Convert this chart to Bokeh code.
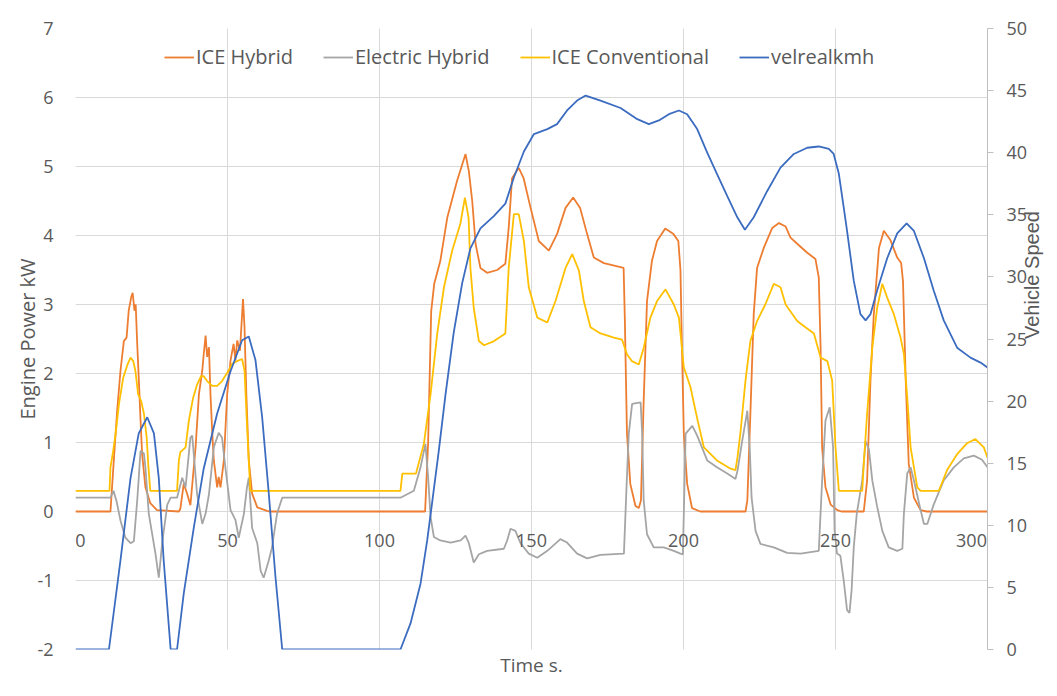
import math
from bokeh.plotting import figure
from bokeh.models import (Range1d, LinearAxis, FixedTicker, Grid, LabelSet, Title,
                          ColumnDataSource)
from bokeh.core.properties import value
from bokeh.embed import file_html
from bokeh.resources import INLINE

# ---- data ----
x_ticks = [0, 50, 100, 150, 200, 250, 300]
power_ticks = [-2, -1, 0, 1, 2, 3, 4, 5, 6, 7]
speed_ticks = [0, 5, 10, 15, 20, 25, 30, 35, 40, 45, 50]

ice_hybrid = [
    (0, 0), (11.5, 0), (12.6, 0.74), (13.7, 1.46), (14.8, 2.04), (15.9, 2.47), (16.8, 2.52), (17.5, 2.91),
    (18.3, 3.10), (18.8, 3.17), (19.4, 2.91), (19.8, 3.0), (20.3, 2.43), (20.8, 1.94), (21.4, 1.32),
    (21.9, 0.84), (23.0, 0.35), (24.6, 0.12), (26.8, 0.02), (34.0, 0.0),
    (34.5, 0.04), (35.6, 0.40), (36.7, 0.26), (37.8, 0.09), (39.5, 0.93), (40.6, 1.70), (41.7, 2.04),
    (42.2, 2.29), (42.8, 2.55), (43.3, 2.24), (43.9, 2.38), (44.4, 1.70), (45.0, 1.13), (45.5, 0.74),
    (46.6, 0.35), (47.1, 0.50), (47.7, 0.35), (48.8, 0.74), (49.9, 1.70), (51.0, 2.19), (52.0, 2.43),
    (52.6, 2.19), (53.2, 2.48), (54.1, 2.33), (55.1, 3.08), (55.6, 2.67), (56.2, 1.70), (57.0, 0.74),
    (58.1, 0.26), (59.8, 0.06), (63.0, 0.01), (64.0, 0.0),
    (115.0, 0.0), (116.0, 1.0), (117.0, 2.9), (118.0, 3.3), (120.0, 3.63), (122.3, 4.26), (125.5, 4.79),
    (128.3, 5.18), (129.4, 4.93), (130.5, 4.5), (131.6, 3.88), (133.2, 3.53), (135.4, 3.46), (138.7, 3.5),
    (141.4, 3.59), (142.5, 4.11), (143.6, 4.83), (145.8, 4.98), (147.4, 4.83), (149.7, 4.4), (152.4, 3.92),
    (155.7, 3.78), (158.4, 4.02), (161.2, 4.4), (163.7, 4.55), (166.0, 4.4), (168.3, 4.02), (170.5, 3.68),
    (173.8, 3.6), (180.3, 3.53), (180.7, 2.8), (181.4, 1.13), (182.5, 0.4), (184.2, 0.08), (185.3, 0.05),
    (186.0, 0.16), (186.9, 1.6), (188.0, 3.05), (189.6, 3.63), (191.3, 3.92), (194.0, 4.1), (196.7, 4.02),
    (198.3, 3.92), (199.0, 3.5), (199.4, 2.58), (200.1, 1.13), (201.2, 0.4), (202.8, 0.05), (205.5, 0.0),
    (220.4, 0.0), (221.0, 0.16), (222.0, 1.42), (223.1, 2.86), (224.2, 3.53), (226.4, 3.82), (229.2, 4.11),
    (231.4, 4.18), (233.6, 4.13), (235.2, 3.97), (237.4, 3.88), (240.7, 3.75), (243.4, 3.66), (244.5, 3.39),
    (245.1, 2.37), (245.6, 0.92), (246.7, 0.35), (248.4, 0.1), (250.6, 0.02), (252.0, 0.0),
    (259.3, 0.0), (260.4, 0.45), (261.5, 1.9), (262.6, 2.86), (264.3, 3.82), (265.9, 4.07), (268.1, 3.93),
    (270.3, 3.68), (271.6, 3.6), (272.2, 3.34), (273.1, 1.9), (274.1, 0.69), (275.8, 0.2), (278.0, 0.02),
    (280.0, 0.0), (300.0, 0.0),
]

electric_hybrid = [
    (0, 0.2), (11.5, 0.2), (12.5, 0.3), (13.5, 0.15), (14.8, -0.13), (16.4, -0.38), (18.1, -0.46),
    (19.2, -0.43), (20.3, 0.16), (21.4, 0.88), (22.5, 0.84), (23.0, 0.64), (24.1, -0.03), (25.2, -0.32),
    (26.3, -0.61), (27.4, -0.96), (28.5, -0.46), (30.2, 0.1), (31.3, 0.2), (33.4, 0.2), (35.1, 0.49),
    (36.2, 0.35), (37.8, 1.07), (38.4, 1.1), (40.0, 0.25), (41.7, -0.18), (42.8, -0.03), (43.9, 0.25),
    (45.5, 0.93), (47.1, 1.14), (48.2, 1.07), (49.3, 0.64), (51.0, 0.02), (52.6, -0.12), (53.7, -0.38),
    (55.4, -0.03), (56.4, 0.35), (57.0, 0.49), (58.1, -0.24), (59.8, -0.46), (60.9, -0.86), (61.9, -0.96),
    (63.5, -0.72), (64.6, -0.53), (66.3, -0.03), (68.0, 0.2), (106.9, 0.2), (111.3, 0.3), (113.5, 0.64),
    (115.1, 0.98), (116.0, 0.5), (116.8, -0.08), (117.9, -0.37), (120.0, -0.42), (123.4, -0.45),
    (126.7, -0.42), (128.3, -0.35), (129.4, -0.46), (131.0, -0.74), (132.7, -0.62), (135.4, -0.57),
    (140.9, -0.54), (142.0, -0.42), (143.1, -0.25), (144.7, -0.28), (146.4, -0.46), (149.1, -0.61),
    (151.9, -0.67), (155.2, -0.57), (159.5, -0.4), (161.7, -0.45), (165.0, -0.61), (168.3, -0.68),
    (172.7, -0.63), (180.4, -0.61), (181.3, 0.4), (182.0, 1.13), (183.1, 1.56), (185.9, 1.58),
    (186.4, 1.13), (186.9, 0.16), (188.0, -0.33), (190.2, -0.52), (193.5, -0.52), (196.8, -0.57),
    (199.0, -0.61), (199.8, -0.62), (200.7, 1.13), (202.9, 1.24), (204.5, 1.1), (207.8, 0.74), (211.0, 0.64),
    (214.4, 0.55), (217.1, 0.47), (217.8, 0.6), (219.3, 1.02), (221.0, 1.46), (221.8, 0.9), (222.4, 0.2),
    (223.7, -0.28), (225.3, -0.47), (229.7, -0.52), (234.1, -0.6), (238.5, -0.61), (244.5, -0.57),
    (245.6, 0.45), (246.7, 1.32), (248.1, 1.51), (249.2, 0.93), (249.7, -0.28), (250.5, -0.61),
    (251.6, -0.64), (252.7, -1.0), (253.8, -1.43), (254.6, -1.47), (255.3, -1.14), (256.0, -0.52),
    (257.0, -0.03), (258.8, 0.45), (259.9, 1.02), (261.0, 0.9), (262.1, 0.45), (263.7, 0.07),
    (265.4, -0.28), (267.5, -0.52), (270.3, -0.57), (272.0, -0.54), (272.5, -0.03), (273.6, 0.55),
    (274.7, 0.64), (275.8, 0.45), (278.0, 0.02), (279.1, -0.18), (280.2, -0.18), (282.3, 0.1),
    (285.6, 0.45), (288.9, 0.64), (292.2, 0.77), (295.5, 0.81), (298.2, 0.75), (300.0, 0.64),
]

ice_conventional = [
    (0, 0.3), (11.2, 0.3), (11.5, 0.64), (12.4, 0.88), (13.2, 1.13), (14.3, 1.56), (15.7, 1.94),
    (17.2, 2.14), (18.1, 2.23), (19.0, 2.18), (19.7, 2.04), (20.6, 1.7), (21.6, 1.6), (22.5, 1.42),
    (23.4, 1.08), (24.0, 0.64), (24.6, 0.3), (33.4, 0.3), (34.0, 0.74), (34.5, 0.86), (36.2, 0.93),
    (37.3, 1.32), (38.7, 1.65), (40.0, 1.84), (41.3, 1.96), (42.2, 1.96), (43.3, 1.89), (45.0, 1.82),
    (46.6, 1.82), (48.2, 1.89), (49.9, 2.01), (51.5, 2.14), (53.2, 2.18), (54.8, 2.21), (55.6, 2.04),
    (56.2, 1.46), (57.0, 0.74), (57.5, 0.3), (106.9, 0.3), (107.5, 0.55), (112.0, 0.55), (114.6, 0.98),
    (116.8, 1.7), (119.0, 2.58), (121.2, 3.25), (123.9, 3.78), (126.6, 4.17), (128.1, 4.55), (129.3, 4.26),
    (129.9, 3.53), (131.0, 2.95), (132.7, 2.47), (134.4, 2.41), (137.7, 2.47), (141.4, 2.58), (142.5, 3.53),
    (144.2, 4.31), (145.8, 4.31), (147.5, 3.92), (149.1, 3.25), (151.9, 2.81), (155.2, 2.74), (157.9, 3.05),
    (161.2, 3.53), (163.4, 3.73), (165.6, 3.49), (167.2, 3.05), (169.4, 2.67), (172.7, 2.58), (177.1, 2.52),
    (179.8, 2.49), (181.4, 2.28), (183.0, 2.18), (185.3, 2.13), (186.9, 2.37), (189.1, 2.81), (191.3, 3.05),
    (194.1, 3.22), (196.8, 3.0), (198.5, 2.81), (200.1, 2.09), (202.3, 1.8), (204.5, 1.35), (206.7, 0.93),
    (211.0, 0.74), (215.5, 0.62), (217.1, 0.6), (217.8, 0.8), (218.8, 1.17), (220.4, 1.9), (222.0, 2.47),
    (224.2, 2.76), (226.9, 3.0), (229.7, 3.3), (231.9, 3.25), (233.6, 3.0), (235.2, 2.9), (237.4, 2.76),
    (240.1, 2.67), (242.9, 2.58), (245.1, 2.23), (247.3, 2.18), (248.9, 1.9), (250.0, 0.93), (251.1, 0.3),
    (258.8, 0.3), (259.3, 0.69), (260.4, 1.42), (262.1, 2.37), (263.7, 2.95), (265.4, 3.3), (267.0, 3.1),
    (269.2, 2.86), (271.4, 2.52), (272.5, 2.28), (273.6, 1.65), (274.7, 0.93), (276.9, 0.35), (278.0, 0.3),
    (284.0, 0.3), (286.7, 0.6), (290.0, 0.83), (293.3, 0.99), (296.0, 1.05), (298.8, 0.93), (300.0, 0.78),
]

velrealkmh = [
    (0, 0), (11.0, 0), (14.8, 7.2), (18.1, 13.8), (20.8, 17.4), (23.6, 18.7), (25.8, 17.4), (27.4, 13.8),
    (29.0, 7.2), (31.3, 0), (33.4, 0), (35.6, 4.5), (38.9, 9.8), (42.2, 14.6), (46.6, 19.0), (51.0, 22.4),
    (54.8, 24.9), (57.0, 25.2), (59.2, 23.3), (61.4, 18.7), (63.6, 12.5), (65.8, 5.8), (68.0, 0),
    (106.9, 0), (110.2, 2.1), (113.5, 5.3), (115.7, 8.8), (117.3, 11.8), (119.5, 16.0), (121.7, 20.5),
    (124.4, 25.5), (127.2, 29.5), (129.9, 32.3), (133.2, 33.9), (137.6, 34.9), (141.4, 35.9), (144.2, 38.0),
    (147.5, 40.1), (150.8, 41.5), (155.2, 41.9), (158.4, 42.3), (161.7, 43.4), (165.0, 44.2), (167.8, 44.6),
    (172.7, 44.2), (179.3, 43.6), (184.8, 42.7), (188.6, 42.3), (191.9, 42.6), (195.2, 43.1), (198.5, 43.4),
    (201.2, 43.1), (204.5, 41.9), (207.8, 40.0), (211.0, 38.3), (214.4, 36.5), (217.7, 34.8), (220.2, 33.8),
    (223.1, 34.8), (227.5, 36.9), (231.9, 38.8), (236.3, 39.9), (240.7, 40.4), (244.5, 40.5), (247.8, 40.3),
    (249.4, 39.9), (251.1, 38.3), (252.7, 35.6), (253.8, 33.7), (256.0, 29.7), (258.2, 27.0), (259.9, 26.5),
    (261.5, 27.0), (263.7, 28.9), (267.0, 31.5), (270.3, 33.5), (273.4, 34.3), (275.8, 33.7), (279.1, 31.5),
    (282.3, 28.9), (285.6, 26.5), (290.0, 24.3), (294.4, 23.5), (297.7, 23.1), (300.0, 22.7),
]

FONT = "Open Sans"
TXT = "#595959"
GRID = "#D9D9D9"

p = figure(width=1057, height=696, output_backend="svg", toolbar_location=None,
           x_range=Range1d(0, 300), y_range=Range1d(-2, 7),
           x_axis_location=None, y_axis_location=None,
           min_border_left=75, min_border_right=70, min_border_top=28, min_border_bottom=47)
p.extra_y_ranges = {"speed": Range1d(0, 50)}
p.outline_line_color = None
p.background_fill_color = "white"
p.border_fill_color = "white"

x_ticker = FixedTicker(ticks=x_ticks)
y_ticker = FixedTicker(ticks=power_ticks)
p.add_layout(Grid(dimension=0, ticker=x_ticker, grid_line_color=GRID, grid_line_width=1))
p.add_layout(Grid(dimension=1, ticker=y_ticker, grid_line_color=GRID, grid_line_width=1))

def style(ax, size="18px"):
    ax.major_label_text_font = FONT
    ax.major_label_text_font_size = size
    ax.major_label_text_color = TXT
    ax.axis_label_text_font = FONT
    ax.axis_label_text_font_size = "20px"
    ax.axis_label_text_color = TXT
    ax.axis_label_text_font_style = "normal"
    ax.minor_tick_line_color = None

yaxis = LinearAxis(ticker=y_ticker, axis_label="Engine Power kW")
style(yaxis)
yaxis.axis_line_color = None
yaxis.major_tick_line_color = None
yaxis.major_tick_out = 0
yaxis.major_tick_in = 0
yaxis.major_label_standoff = 22
yaxis.axis_label_standoff = -7
yaxis.major_label_overrides = {t: str(t) for t in power_ticks}
p.add_layout(yaxis, "left")

raxis = LinearAxis(y_range_name="speed", ticker=FixedTicker(ticks=speed_ticks),
                   axis_label="Vehicle Speed", axis_label_orientation=math.pi / 2)
style(raxis)
raxis.axis_label_text_font = "Liberation Sans"
raxis.axis_line_color = "#BFBFBF"
raxis.major_tick_line_color = "#BFBFBF"
raxis.major_tick_in = 0
raxis.major_tick_out = 6
raxis.major_label_standoff = 13
raxis.axis_label_standoff = 2
p.add_layout(raxis, "right")

# x tick labels sit just under the y = 0 line, as in the reference;
# the two end labels are nudged inward so the frame does not clip them
xsrc = ColumnDataSource(dict(x=x_ticks, y=[0] * len(x_ticks), label=[str(t) for t in x_ticks],
                             dx=[5] + [0] * (len(x_ticks) - 2) + [-16]))
p.add_layout(LabelSet(x="x", y="y", text="label", source=xsrc, x_offset="dx", y_offset=-29,
                      text_align="center", text_baseline="middle", text_font=value(FONT),
                      text_font_size=value("18px"), text_color=TXT))

p.add_layout(Title(text="Time s.", align="center", text_font=FONT, text_font_size="19px",
                   text_color=TXT, text_font_style="normal", standoff=0), "below")

def split(pairs):
    return [a for a, b in pairs], [b for a, b in pairs]

W = 1.8
t, v = split(ice_hybrid)
p.line(t, v, line_color="#ED7D31", line_width=W, legend_label="ICE Hybrid")
t, v = split(electric_hybrid)
p.line(t, v, line_color="#A5A5A5", line_width=W, legend_label="Electric Hybrid")
t, v = split(ice_conventional)
p.line(t, v, line_color="#FFC000", line_width=W, legend_label="ICE Conventional")
t, v = split(velrealkmh)
p.line(t, v, line_color="#3B6CC0", line_width=W, y_range_name="speed", legend_label="velrealkmh")

lg = p.legend[0]
lg.location = (89, 579)
lg.orientation = "horizontal"
lg.background_fill_alpha = 0
lg.border_line_color = None
lg.label_text_font = FONT
lg.label_text_font_size = "20px"
lg.label_text_color = TXT
lg.glyph_width = 30
lg.label_standoff = 2
lg.spacing = 30
lg.margin = 0
lg.padding = 10

open("out.html", "w").write(file_html(p, INLINE))
